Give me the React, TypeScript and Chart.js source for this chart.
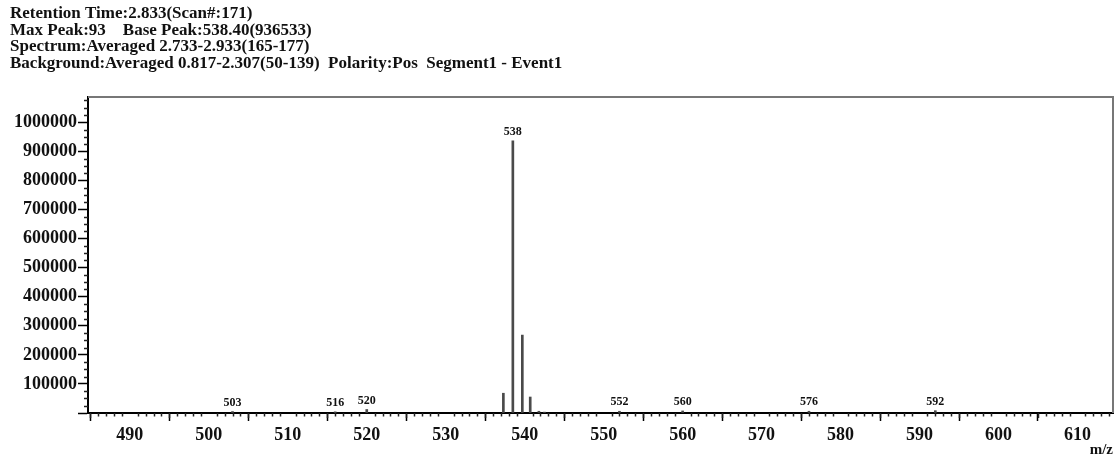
import React, { useEffect, useRef } from "react";
import { Chart, registerables } from "chart.js";

Chart.register(...registerables);

const headerLines = [
  "Retention Time:2.833(Scan#:171)",
  "Max Peak:93    Base Peak:538.40(936533)",
  "Spectrum:Averaged 2.733-2.933(165-177)",
  "Background:Averaged 0.817-2.307(50-139)  Polarity:Pos  Segment1 - Event1",
];

const peakMz = [503, 516, 520, 537.3, 538.5, 539.7, 540.7, 541.8, 542.5, 552, 560, 576, 592];
const peakIntensity = [5000, 4000, 12000, 68000, 936533, 268000, 55000, 6000, 3000, 6000, 7000, 6000, 8000];
const peakLabels = ["503", "516", "520", "", "538", "", "", "", "", "552", "560", "576", "592"];

const xTickValues = [490, 500, 510, 520, 530, 540, 550, 560, 570, 580, 590, 600, 610];
const yTickValues = [0, 100000, 200000, 300000, 400000, 500000, 600000, 700000, 800000, 900000, 1000000];

const xMin = 484.7;
const xMax = 614.5;
const yMax = 1087000;
const xAxisTitle = "m/z";

export default function App() {
  const ref = useRef<HTMLCanvasElement | null>(null);

  useEffect(() => {
    const canvas = ref.current;
    if (!canvas) return;

    const overlay = {
      id: "overlay",
      afterDraw(chart: any) {
        const ctx = chart.ctx as CanvasRenderingContext2D;
        const area = chart.chartArea;
        const xs = chart.scales.x;
        const ys = chart.scales.y;
        ctx.save();
        // header
        ctx.fillStyle = "#111";
        ctx.font = "bold 17px 'Liberation Serif'";
        ctx.textAlign = "left";
        ctx.textBaseline = "alphabetic";
        headerLines.forEach((t, i) => ctx.fillText(t, 10, 18 + i * 16.5));
        // frame top & right
        ctx.strokeStyle = "#777";
        ctx.lineWidth = 2;
        ctx.beginPath();
        ctx.moveTo(area.left, area.top);
        ctx.lineTo(area.right, area.top);
        ctx.lineTo(area.right, area.bottom);
        ctx.stroke();
        // minor x ticks
        ctx.strokeStyle = "#222";
        ctx.lineWidth = 1.5;
        ctx.beginPath();
        for (let v = Math.ceil(xMin); v <= xMax; v++) {
          if (v % 10 === 0) continue;
          const px = Math.round(xs.getPixelForValue(v)) + 0.5;
          const len = v % 5 === 0 ? 5 : 3.5;
          ctx.moveTo(px, area.bottom);
          ctx.lineTo(px, area.bottom + len);
        }
        // minor y ticks
        for (let v = 25000; v <= yMax; v += 25000) {
          if (v % 100000 === 0) continue;
          const py = Math.round(ys.getPixelForValue(v)) + 0.5;
          ctx.moveTo(area.left, py);
          ctx.lineTo(area.left - 4, py);
        }
        ctx.stroke();
        // peak labels
        const meta = chart.getDatasetMeta(0);
        ctx.fillStyle = "#111";
        ctx.font = "bold 12px 'Liberation Serif'";
        ctx.textAlign = "center";
        ctx.textBaseline = "bottom";
        meta.data.forEach((el: any, i: number) => {
          const lab = peakLabels[i];
          if (lab) ctx.fillText(lab, el.x, el.y - 3);
        });
        // axis title
        ctx.font = "bold 15px 'Liberation Serif'";
        ctx.textAlign = "right";
        ctx.textBaseline = "bottom";
        ctx.fillText(xAxisTitle, area.right, 458);
        ctx.restore();
      },
    };

    const chart = new Chart(canvas, {
      type: "bar",
      data: {
        datasets: [
          {
            data: peakMz.map((m, i) => ({ x: m, y: peakIntensity[i] })),
            backgroundColor: "#4a4a4a",
            borderWidth: 0,
            barThickness: 2,
          },
        ],
      },
      options: {
        responsive: false,
        animation: false,
        devicePixelRatio: 1,
        layout: { padding: { left: 0, top: 97, right: 7, bottom: 0 } },
        plugins: {
          legend: { display: false },
          tooltip: { enabled: false },
          title: { display: false },
        },
        scales: {
          x: {
            type: "linear",
            min: xMin,
            max: xMax,
            offset: false,
            afterBuildTicks: (s: any) => {
              s.ticks = xTickValues.map((v) => ({ value: v }));
            },
            afterFit: (s: any) => {
              s.height = 47;
            },
            border: { color: "#000", width: 2 },
            grid: {
              drawOnChartArea: false,
              drawTicks: true,
              tickLength: 8,
              tickColor: "#000",
              tickWidth: 1.5,
            },
            ticks: {
              autoSkip: false,
              maxRotation: 0,
              padding: 4,
              color: "#111",
              font: { family: "'Liberation Serif'", size: 18, weight: "bold" },
              callback: (v: any) => String(v),
            },
          },
          y: {
            type: "linear",
            min: 0,
            max: yMax,
            afterBuildTicks: (s: any) => {
              s.ticks = yTickValues.map((v) => ({ value: v }));
            },
            afterFit: (s: any) => {
              s.width = 88;
            },
            border: { color: "#000", width: 2 },
            grid: {
              drawOnChartArea: false,
              drawTicks: true,
              tickLength: 10,
              tickColor: "#000",
              tickWidth: 1.5,
            },
            ticks: {
              autoSkip: false,
              padding: 1,
              color: "#111",
              font: { family: "'Liberation Serif'", size: 18, weight: "bold" },
              callback: (v: any) => (v === 0 ? "" : String(v)),
            },
          },
        },
      },
      plugins: [overlay],
    } as any);

    return () => chart.destroy();
  }, []);

  return (
    <div style={{ position: "fixed", left: 0, top: 0, width: 1120, height: 460, background: "#fff" }}>
      <canvas ref={ref} width={1120} height={460} />
    </div>
  );
}
